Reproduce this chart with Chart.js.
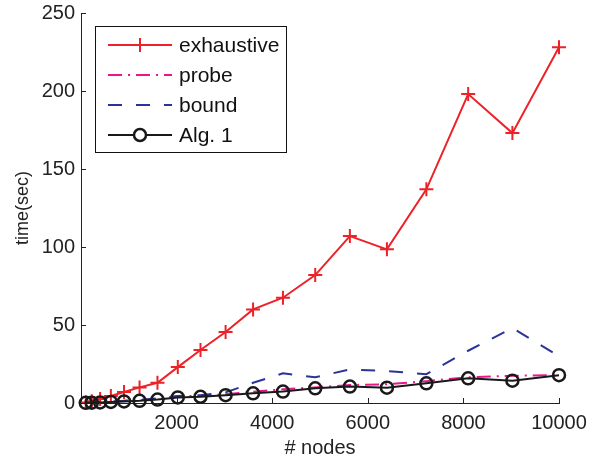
<!DOCTYPE html>
<html>
<head>
<meta charset="utf-8">
<script src="https://cdn.jsdelivr.net/npm/chart.js@4"></script>
<style>
  html, body { margin: 0; padding: 0; background: #fff; }
  #wrap { width: 591px; height: 461px; }
</style>
</head>
<body>
<div id="wrap"><canvas id="c" width="591" height="461"></canvas></div>
<script>
// number of nodes
const nodes = [100, 225, 400, 625, 900, 1225, 1600, 2025, 2500, 3025, 3600, 4225, 4900, 5625, 6400, 7225, 8100, 9025, 10000];
// run times (sec)
const exhaustive = [0.3, 1.2, 2.5, 4.5, 7, 10, 13, 23, 34, 45.5, 60, 67.5, 82, 107, 98.5, 137, 198, 173, 228];
const probe = [0.1, 0.3, 0.6, 0.9, 1.3, 1.8, 2.6, 4.3, 4.6, 5.6, 7.2, 8.8, 10, 11.5, 12, 14, 16.5, 17.5, 17.8];
const bound = [0.1, 0.3, 0.6, 0.9, 1.4, 2, 3, 4.5, 5, 6.8, 13, 19, 16.5, 21.5, 20.5, 18.5, 33.5, 48, 30];
const alg1 = [0.1, 0.2, 0.4, 0.7, 1, 1.4, 2.2, 3.6, 4, 5, 6.2, 7.3, 9.4, 10.5, 9.8, 12.6, 15.8, 14.3, 17.8];

const xTicks = [2000, 4000, 6000, 8000, 10000];
const yTicks = [0, 50, 100, 150, 200, 250];

const FONT = 'Liberation Sans, Arial, Helvetica, sans-serif';
const toXY = arr => arr.map((v, i) => ({x: nodes[i], y: v}));

const series = [
  {label: 'exhaustive', data: toXY(exhaustive), borderColor: 'rgb(236,34,40)', borderDash: [],
   pointStyle: 'cross', pointRadius: 7, order: 3},
  {label: 'probe', data: toXY(probe), borderColor: 'rgb(232,24,140)', borderDash: [14, 6, 2, 6],
   pointStyle: false, pointRadius: 0, order: 2},
  {label: 'bound', data: toXY(bound), borderColor: 'rgb(42,52,150)', borderDash: [14, 14],
   pointStyle: false, pointRadius: 0, order: 1},
  {label: 'Alg. 1', data: toXY(alg1), borderColor: 'rgb(25,25,25)', borderDash: [],
   pointStyle: 'circle', pointRadius: 6, order: 0}
];

// inward tick marks (matlab style)
const tickMarks = {
  id: 'tickMarks',
  afterDraw(chart) {
    const {ctx, chartArea: a, scales: {x, y}} = chart;
    ctx.save();
    ctx.strokeStyle = '#222';
    ctx.lineWidth = 1;
    ctx.beginPath();
    xTicks.forEach(t => {
      const px = Math.round(x.getPixelForValue(t)) + 0.5;
      ctx.moveTo(px, a.bottom);
      ctx.lineTo(px, a.bottom - 5);
    });
    yTicks.forEach(t => {
      const py = Math.round(y.getPixelForValue(t)) + 0.5;
      ctx.moveTo(a.left, py);
      ctx.lineTo(a.left + 5, py);
    });
    ctx.stroke();
    ctx.restore();
  }
};

// legend box with line samples
const legendBox = {
  id: 'legendBox',
  afterDraw(chart) {
    const ctx = chart.ctx;
    const bx = 95.5, by = 26.5, bw = 191, bh = 126;
    ctx.save();
    ctx.fillStyle = '#fff';
    ctx.fillRect(bx, by, bw, bh);
    ctx.strokeStyle = '#111';
    ctx.lineWidth = 1;
    ctx.strokeRect(bx, by, bw, bh);
    series.forEach((s, i) => {
      const ry = 45 + i * 30;
      ctx.strokeStyle = s.borderColor;
      ctx.lineWidth = 2;
      ctx.setLineDash(s.borderDash);
      ctx.beginPath();
      ctx.moveTo(108, ry);
      ctx.lineTo(172, ry);
      ctx.stroke();
      ctx.setLineDash([]);
      if (s.pointStyle === 'cross') {
        ctx.beginPath();
        ctx.moveTo(140, ry - 7); ctx.lineTo(140, ry + 7);
        ctx.moveTo(133, ry); ctx.lineTo(147, ry);
        ctx.stroke();
      } else if (s.pointStyle === 'circle') {
        ctx.lineWidth = 2.5;
        ctx.fillStyle = '#fff';
        ctx.beginPath();
        ctx.arc(140, ry, 6, 0, Math.PI * 2);
        ctx.fill();
        ctx.stroke();
      }
      ctx.fillStyle = '#111';
      ctx.font = '21px ' + FONT;
      ctx.textBaseline = 'middle';
      ctx.fillText(s.label, 179, ry + 1);
    });
    ctx.restore();
  }
};

new Chart(document.getElementById('c'), {
  type: 'line',
  data: {
    datasets: series.map(s => ({
      label: s.label,
      data: s.data,
      borderColor: s.borderColor,
      backgroundColor: 'rgba(0,0,0,0)',
      borderWidth: 2,
      borderDash: s.borderDash,
      pointStyle: s.pointStyle,
      pointRadius: s.pointRadius,
      pointBorderColor: s.borderColor,
      pointBackgroundColor: 'rgba(0,0,0,0)',
      pointBorderWidth: s.pointStyle === 'circle' ? 2.5 : 2,
      tension: 0,
      order: s.order,
      clip: false
    }))
  },
  options: {
    responsive: false,
    animation: false,
    layout: {padding: {top: 13, right: 32, left: 0, bottom: 0}},
    plugins: {legend: {display: false}, tooltip: {enabled: false}},
    scales: {
      x: {
        type: 'linear',
        min: 0,
        max: 10000,
        afterBuildTicks: scale => { scale.ticks = xTicks.map(v => ({value: v})); },
        afterFit: scale => { scale.height = 58; scale.paddingLeft = 0; scale.paddingRight = 0; },
        grid: {display: false, drawTicks: false, tickLength: 0},
        border: {display: true, color: '#222', width: 1},
        ticks: {color: '#222', padding: 8, maxRotation: 0, callback: v => String(v),
                font: {family: FONT, size: 20}},
        title: {display: true, text: '# nodes', color: '#222', padding: {top: 0, bottom: 1},
                font: {family: FONT, size: 20}}
      },
      y: {
        min: 0,
        max: 250,
        afterBuildTicks: scale => { scale.ticks = yTicks.map(v => ({value: v})); },
        afterFit: scale => { scale.width = 81; scale.paddingTop = 0; scale.paddingBottom = 0; },
        grid: {display: false, drawTicks: false, tickLength: 0},
        border: {display: true, color: '#222', width: 1},
        ticks: {color: '#222', padding: 6, callback: v => String(v),
                font: {family: FONT, size: 20}},
        title: {display: true, text: 'time(sec)', color: '#222', padding: {top: 12, bottom: 0},
                font: {family: FONT, size: 18}}
      }
    }
  },
  plugins: [tickMarks, legendBox]
});
</script>
</body>
</html>
